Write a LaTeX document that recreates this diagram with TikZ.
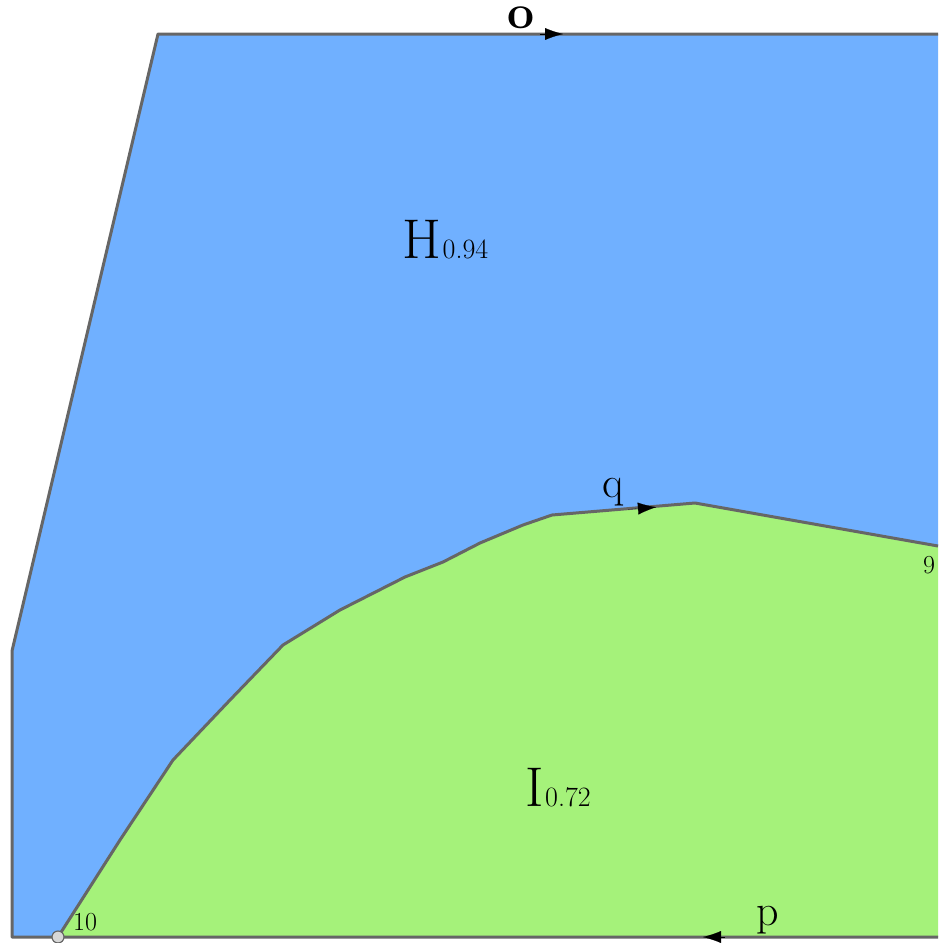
\documentclass[tikz,border=0pt]{standalone}
\usepackage{fontspec}
\usepackage{tikz}
\usetikzlibrary{arrows.meta}
\definecolor{regionblue}{RGB}{112,176,255}
\definecolor{regiongreen}{RGB}{165,242,122}
\definecolor{edgegray}{RGB}{102,102,102}
\definecolor{dotgray}{RGB}{215,215,215}
\newcommand{\regname}[1]{{\fontsize{56}{56}\selectfont #1}}
\newcommand{\regval}[1]{{\fontsize{28}{28}\selectfont #1}}

\begin{document}
\begin{tikzpicture}[x=1pt,y=-1pt,
  edge/.style={draw=edgegray,line width=3pt,line join=round},
  dir/.style={-{Latex[length=18pt,width=12pt]},black,line width=0.1pt},
  lab/.style={font=\fontsize{44}{44}\selectfont,inner sep=0pt},
  num/.style={font=\fontsize{26}{26}\selectfont,inner sep=0pt}
]
\useasboundingbox (0,0) rectangle (938,943);
% corners of the outer region
\coordinate (tl) at (158,34);
\coordinate (tr) at (938,34);
\coordinate (ml) at (12,651);
\coordinate (bl) at (12,937);
\coordinate (br) at (938,937);
\coordinate (v10) at (58,937);
\coordinate (v9) at (938,546);
% blue region
\fill[regionblue] (tl) -- (tr) -- (v9) -- (695,503) -- (552,515) -- (523,525)
  -- (480,543) -- (443,562) -- (405,577) -- (340,610) -- (283,645) -- (230,700)
  -- (173,760) -- (120,840) -- (v10) -- (bl) -- (ml) -- cycle;
% green region
\fill[regiongreen] (v10) -- (120,840) -- (173,760) -- (230,700) -- (283,645)
  -- (340,610) -- (405,577) -- (443,562) -- (480,543) -- (523,525) -- (552,515)
  -- (695,503) -- (v9) -- (br) -- cycle;
% edges
\draw[edge] (br) -- (bl) -- (ml) -- (tl) -- (tr);
\draw[edge] (v10) -- (120,840) -- (173,760) -- (230,700) -- (283,645)
  -- (340,610) -- (405,577) -- (443,562) -- (480,543) -- (523,525) -- (552,515)
  -- (695,503) -- (v9);
% direction marks
\draw[dir] (540,34) -- (563,34);
\draw[dir] (628,509.3) -- (656,507.2);
\draw[dir] (725,937) -- (703,937);
\node[lab,anchor=base] (o) at (521,28) {\fontsize{48}{48}\selectfont\textbf{o}};
\node[lab,anchor=base] (q) at (613,497) {q};
\node[lab,anchor=base] (p) at (768,925) {p};
% vertex
\draw[edgegray,fill=dotgray,line width=1.2pt] (v10) circle (6);
\node[num,anchor=base west] (n10) at (73,930) {10};
\node[num,anchor=base west] (n9) at (923,573) {9};
% region labels
\node[inner sep=0pt,anchor=base west] (H) at (402,258) {\regname{H}\,\regval{0.94}};
\node[inner sep=0pt,anchor=base west] (I) at (525,806) {\regname{I}\,\regval{0.72}};
\end{tikzpicture}
\end{document}
